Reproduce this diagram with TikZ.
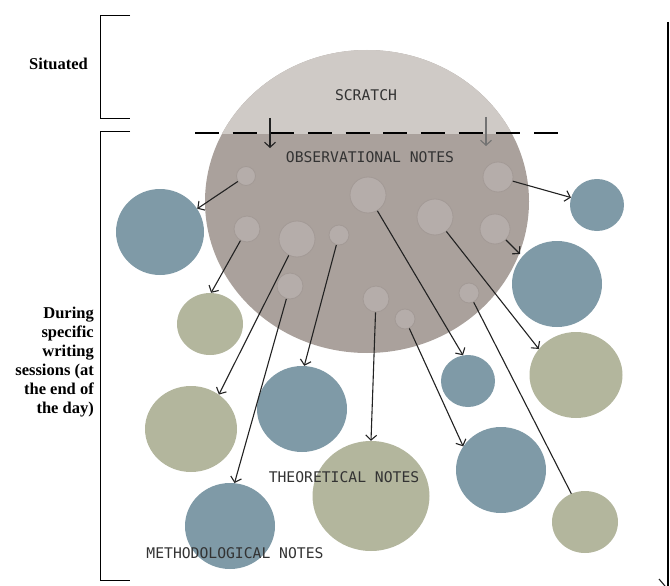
\documentclass[tikz,border=0pt]{standalone}
\usepackage{fontspec}
\setmainfont{Liberation Serif}
\newfontfamily\labelmono{DejaVu Sans Mono}
\usetikzlibrary{arrows.meta,shapes.geometric}

\definecolor{scratchgray}{HTML}{CFCAC6}
\definecolor{obsgray}{HTML}{AAA19C}
\definecolor{notefill}{HTML}{B5ADAA}
\definecolor{noteedge}{HTML}{A39A96}
\definecolor{theoblue}{HTML}{7F9AA7}
\definecolor{methgreen}{HTML}{B3B69D}
\definecolor{inkdark}{HTML}{222222}
\definecolor{labelink}{HTML}{333333}

\tikzset{
  note/.style={circle, fill=notefill, draw=noteedge, line width=0.8pt, inner sep=0pt},
  blob/.style={ellipse, draw=none, inner sep=0pt},
  blueblob/.style={blob, fill=theoblue},
  greenblob/.style={blob, fill=methgreen},
  link/.style={draw=inkdark, line width=1.1pt, -{Straight Barb[length=5pt,width=11pt]}},
  plainlink/.style={draw=inkdark, line width=1.1pt},
  bracket/.style={draw=black, line width=1pt},
  caption/.style={font=\labelmono\fontsize{14.7}{16}\selectfont, text=labelink, inner sep=0pt},
  phase/.style={font=\bfseries\fontsize{16.5}{19}\selectfont, align=right, inner sep=0pt, anchor=east}
}

\begin{document}
\begin{tikzpicture}[x=1pt,y=-1pt]
\useasboundingbox (0,0) rectangle (670,586);

% phase brackets on the left
\draw[bracket] (130,16) -- (100,16) -- (100,119) -- (130,119);
\draw[bracket] (130,131) -- (100,131) -- (100,580) -- (130,580);
\node[phase] (situated) at (88,64) {Situated};
\node[phase] (sessions) at (94,362) {During\\specific\\writing\\sessions (at\\the end of\\the day)};

% right margin rule
\draw[line width=1.6pt] (668,22) -- (668,586);
\coordinate (edgeA) at (659,579);
\coordinate (edgeB) at (665,586);
\draw[plainlink] (edgeA) -- (edgeB);

% scratch / observational ellipse
\node[ellipse, fill=obsgray, minimum width=324pt, minimum height=303pt, inner sep=0pt] (field) at (367,201.5) {};
\begin{scope}
  \clip (150,40) rectangle (600,133);
  \fill[scratchgray] (367,201.5) ellipse [x radius=162, y radius=151.5];
\end{scope}
\draw[line width=1.8pt, dash pattern=on 24pt off 13.67pt] (195,133) -- (558,133);

\node[caption] (scratch) at (366,95) {SCRATCH};
\node[caption] (obs) at (370,157) {OBSERVATIONAL NOTES};

\coordinate (dropAtop) at (270,118);
\coordinate (dropAbot) at (270,148);
\coordinate (dropBtop) at (486,117);
\coordinate (dropBbot) at (486,146);
\draw[link] (dropAtop) -- (dropAbot);
\draw[link, draw=black!55] (dropBtop) -- (dropBbot);

% individual notes
\node[note, minimum size=19pt] (s1) at (246,176) {};
\node[note, minimum size=36pt] (s2) at (368,195) {};
\node[note, minimum size=30pt] (s3) at (498,177) {};
\node[note, minimum size=36pt] (s4) at (435,217) {};
\node[note, minimum size=26pt] (s5) at (247,229) {};
\node[note, minimum size=36pt] (s6) at (297,239) {};
\node[note, minimum size=20pt] (s7) at (339,235) {};
\node[note, minimum size=30pt] (s8) at (495,229) {};
\node[note, minimum size=26pt] (s9) at (290,286) {};
\node[note, minimum size=26pt] (s10) at (376,299) {};
\node[note, minimum size=20pt] (s11) at (405,319) {};
\node[note, minimum size=20pt] (s12) at (469,293) {};

% links that pass behind their target
\coordinate (b3in) at (520,254);
\coordinate (g5in) at (573,497);
\draw[link] (s8) -- (b3in);
\draw[plainlink] (s12) -- (g5in);

% developed notes
\node[blueblob, minimum width=88pt, minimum height=86pt] (b1) at (160,232) {};
\node[blueblob, minimum width=54pt, minimum height=52pt] (b2) at (597,205) {};
\node[blueblob, minimum width=90pt, minimum height=86pt] (b3) at (557,284) {};
\node[blueblob, minimum width=54pt, minimum height=52pt] (b4) at (468,381) {};
\node[blueblob, minimum width=90pt, minimum height=86pt] (b5) at (302,409) {};
\node[blueblob, minimum width=90pt, minimum height=86pt] (b6) at (501,470) {};
\node[blueblob, minimum width=90pt, minimum height=86pt] (b7) at (230,526) {};
\node[greenblob, minimum width=66pt, minimum height=62pt] (g1) at (210,324) {};
\node[greenblob, minimum width=93pt, minimum height=86pt] (g2) at (576,375) {};
\node[greenblob, minimum width=92pt, minimum height=86pt] (g3) at (191,429) {};
\node[greenblob, minimum width=117pt, minimum height=110pt] (g4) at (371,496) {};
\node[greenblob, minimum width=66pt, minimum height=62pt] (g5) at (585,522) {};

% links from notes to developed notes (anchor angles counted upward from east)
\draw[link] (s1) -- (b1.32);
\draw[link] (s3) -- (b2.164);
\draw[link] (s5) -- (g1.88);
\draw[link] (s6) -- (g3.51);
\draw[link] (s7) -- (b5.87);
\draw[link] (s9) -- (b7.84);
\draw[link] (s10) -- (g4.90);
\draw[link] (s2) -- (b4.101);
\draw[link] (s11) -- (b6.148);
\draw[link] (s4) -- (g2.145);

\node[caption] (theo) at (344,477) {THEORETICAL NOTES};
\node[caption] (meth) at (235,553) {METHODOLOGICAL NOTES};
\end{tikzpicture}
\end{document}
